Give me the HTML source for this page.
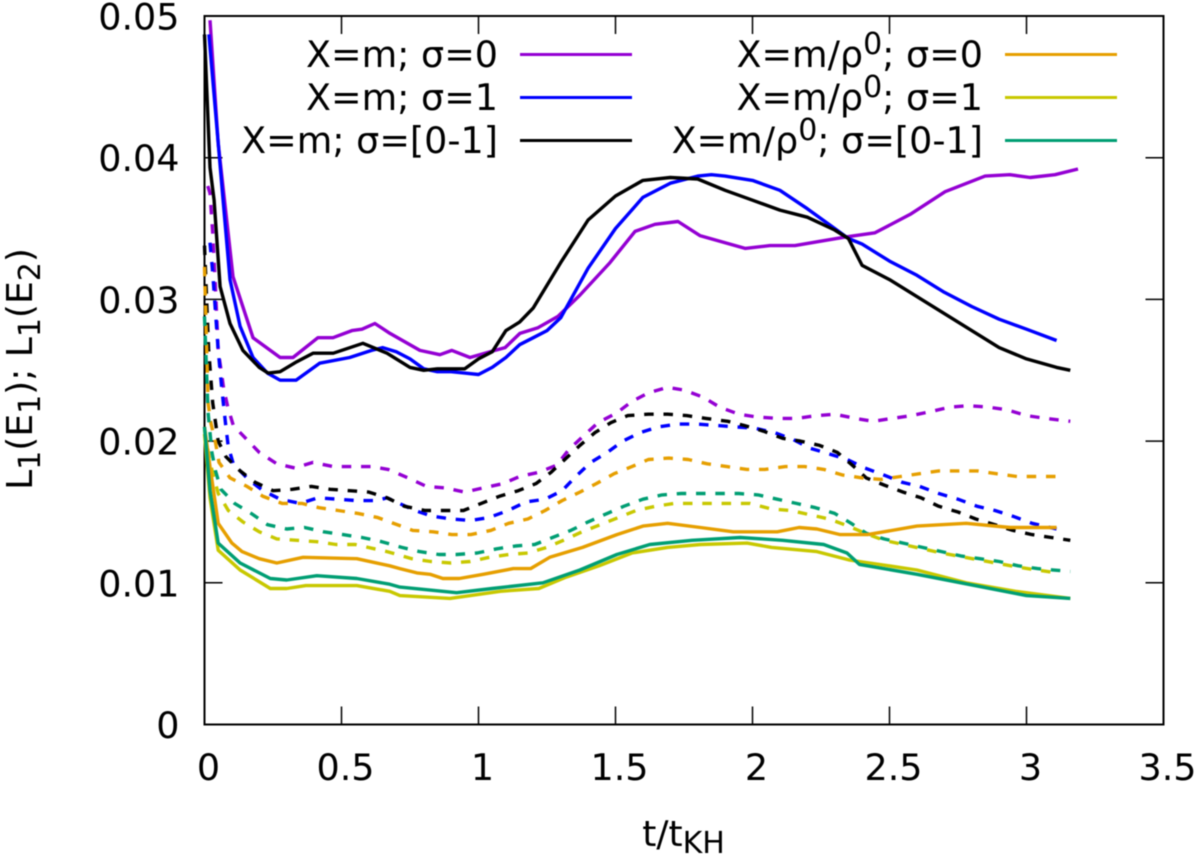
<!DOCTYPE html>
<html lang="en">
<head>
<meta charset="utf-8">
<title>L1 error vs t/tKH</title>
<style>
html,body{margin:0;padding:0;background:#fff;}
svg{display:block;filter:blur(0.45px);}
text{font-family:"DejaVu Sans","Liberation Sans",sans-serif;fill:#000;}
</style>
</head>
<body>
<svg id="chart" xmlns="http://www.w3.org/2000/svg" width="1200" height="855" viewBox="0 0 1200 855">
  <rect x="0" y="0" width="1200" height="855" fill="#fff"/>
  <g id="axes"></g>
  <g id="series"></g>
  <text transform="translate(32,369) rotate(-90)" text-anchor="middle" font-size="36">L<tspan font-size="30" dy="8">1</tspan><tspan dy="-8">(E</tspan><tspan font-size="30" dy="8">1</tspan><tspan dy="-8">); L</tspan><tspan font-size="30" dy="8">1</tspan><tspan dy="-8">(E</tspan><tspan font-size="30" dy="8">2</tspan><tspan dy="-8">)</tspan></text>
  <text x="683.5" y="846" text-anchor="middle" font-size="36">t/t<tspan font-size="30" dy="7">KH</tspan></text>
  <g id="legend">
    <g>
      <text x="498" y="67" text-anchor="end" font-size="36.5">X=m; σ=0</text>
      <line x1="520" x2="632" y1="54.5" y2="54.5" stroke="#9400d3" stroke-width="3"/>
    </g>
    <g>
      <text x="498" y="110" text-anchor="end" font-size="36.5">X=m; σ=1</text>
      <line x1="520" x2="632" y1="97.5" y2="97.5" stroke="#0000ff" stroke-width="3"/>
    </g>
    <g>
      <text x="498" y="153" text-anchor="end" font-size="36.5">X=m; σ=[0-1]</text>
      <line x1="520" x2="632" y1="140.5" y2="140.5" stroke="#000" stroke-width="3"/>
    </g>
    <g>
      <text x="983" y="67" text-anchor="end" font-size="36.5">X=m/ρ<tspan font-size="30" dy="-13">0</tspan><tspan dy="13">; σ=0</tspan></text>
      <line x1="1005" x2="1117" y1="54.5" y2="54.5" stroke="#e69f00" stroke-width="3"/>
    </g>
    <g>
      <text x="983" y="110" text-anchor="end" font-size="36.5">X=m/ρ<tspan font-size="30" dy="-13">0</tspan><tspan dy="13">; σ=1</tspan></text>
      <line x1="1005" x2="1117" y1="97.5" y2="97.5" stroke="#c8c800" stroke-width="3"/>
    </g>
    <g>
      <text x="983" y="153" text-anchor="end" font-size="36.5">X=m/ρ<tspan font-size="30" dy="-13">0</tspan><tspan dy="13">; σ=[0-1]</tspan></text>
      <line x1="1005" x2="1117" y1="140.5" y2="140.5" stroke="#009e73" stroke-width="3"/>
    </g>
  </g>
</svg>
<script>
const xTicks = ["0","0.5","1","1.5","2","2.5","3","3.5"];
const yTicks = ["0","0.01","0.02","0.03","0.04","0.05"];

const purpleSolid = [[.02,.0497],[.05,.041],[.104,.0316],[.177,.0273],[.276,.0259],[.323,.0259],[.414,.0273],[.469,.0273],[.538,.0278],[.575,.0279],[.622,.0283],[.677,.0276],[.786,.0264],[.859,.0261],[.903,.0264],[.969,.0259],[1.042,.0263],[1.097,.0266],[1.151,.0276],[1.217,.028],[1.29,.0288],[1.37,.0303],[1.48,.0326],[1.571,.0348],[1.644,.0353],[1.728,.0355],[1.808,.0345],[1.973,.0336],[2.064,.0338],[2.155,.0338],[2.246,.0341],[2.338,.0344],[2.447,.0347],[2.575,.036],[2.703,.0376],[2.849,.0387],[2.939,.0388],[3.013,.0386],[3.104,.0388],[3.188,.0392]];
const blueSolid = [[.016,.0487],[.068,.037],[.093,.0314],[.13,.0281],[.177,.0259],[.23,.0248],[.276,.0243],[.334,.0243],[.42,.0255],[.53,.0259],[.61,.0264],[.65,.0266],[.7,.0263],[.75,.0258],[.8,.0251],[.85,.0249],[.9,.0249],[.95,.0248],[1,.0247],[1.05,.0252],[1.1,.0259],[1.15,.0268],[1.2,.0273],[1.25,.0278],[1.3,.0287],[1.4,.0322],[1.5,.035],[1.6,.0372],[1.7,.0382],[1.8,.0387],[1.85,.0388],[1.9,.0387],[2,.0384],[2.1,.0377],[2.2,.0364],[2.3,.035],[2.35,.0343],[2.4,.0339],[2.5,.0327],[2.6,.0317],[2.7,.0305],[2.8,.0295],[2.9,.0286],[3,.0279],[3.11,.0271]];
const blackSolid = [[0,.0487],[.02,.0393],[.035,.037],[.057,.0309],[.093,.0283],[.14,.0264],[.2,.0252],[.232,.0248],[.276,.0249],[.337,.0256],[.396,.0262],[.47,.0262],[.578,.0269],[.666,.0262],[.75,.0252],[.8,.025],[.85,.0251],[.95,.0251],[1,.0258],[1.05,.0263],[1.1,.0278],[1.15,.0284],[1.2,.0294],[1.25,.031],[1.3,.0326],[1.4,.0356],[1.5,.0373],[1.6,.0384],[1.7,.0386],[1.8,.0385],[1.9,.0377],[2,.037],[2.1,.0363],[2.2,.0358],[2.3,.0349],[2.35,.0343],[2.4,.0324],[2.5,.0314],[2.6,.0302],[2.7,.029],[2.8,.0278],[2.9,.0266],[3,.0258],[3.11,.0252],[3.16,.025]];
const orangeSolid = [[0,.021],[.02,.0182],[.05,.0142],[.1,.0128],[.137,.0122],[.2,.0117],[.264,.0114],[.36,.0118],[.556,.0117],[.676,.0112],[.713,.011],[.775,.0107],[.823,.0106],[.87,.0103],[.93,.0103],[1.017,.0106],[1.127,.011],[1.19,.011],[1.26,.0118],[1.38,.0125],[1.505,.0134],[1.6,.014],[1.69,.0142],[1.81,.0139],[1.93,.0136],[2.09,.0136],[2.17,.0139],[2.235,.0138],[2.32,.0134],[2.42,.0134],[2.6,.014],[2.78,.0142],[2.94,.0139],[3.11,.0139]];
const yellowSolid = [[0,.0205],[.02,.016],[.05,.0123],[.13,.0109],[.24,.0096],[.3,.0096],[.37,.0098],[.556,.0098],[.676,.0094],[.713,.0091],[.896,.0089],[1.08,.0094],[1.22,.0096],[1.32,.0104],[1.44,.0112],[1.56,.0121],[1.69,.0125],[1.81,.0127],[1.98,.0128],[2.07,.0125],[2.235,.0122],[2.355,.0116],[2.39,.0115],[2.6,.0109],[2.78,.01],[2.96,.0094],[3.16,.0089]];
const tealSolid = [[0,.021],[.02,.0165],[.05,.0128],[.13,.0114],[.24,.0103],[.3,.0102],[.41,.0105],[.556,.0103],[.676,.0099],[.713,.0097],[.92,.0093],[1.05,.0096],[1.235,.01],[1.37,.0109],[1.505,.012],[1.625,.0127],[1.78,.013],[1.955,.0132],[2.11,.013],[2.26,.0127],[2.345,.0121],[2.39,.0113],[2.6,.0106],[2.84,.0097],[3,.0091],[3.16,.0089]];

const purpleDashed = [[.012,.038],[.02,.0375],[.03,.0347],[.04,.0307],[.05,.0264],[.07,.0237],[.085,.0224],[.105,.0211],[.155,.0201],[.2,.0192],[.264,.0184],[.33,.0181],[.396,.0185],[.47,.0182],[.538,.0182],[.61,.0182],[.67,.018],[.743,.0174],[.81,.0168],[.878,.0167],[.95,.0164],[1.017,.0167],[1.09,.017],[1.15,.0175],[1.22,.0178],[1.285,.0183],[1.33,.0194],[1.38,.0203],[1.436,.0213],[1.505,.022],[1.56,.0228],[1.62,.0234],[1.69,.0238],[1.75,.0236],[1.82,.0231],[1.88,.0224],[1.95,.0219],[2.016,.0217],[2.09,.0216],[2.16,.0216],[2.235,.0218],[2.3,.0219],[2.375,.0216],[2.44,.0214],[2.51,.0216],[2.58,.0218],[2.655,.0221],[2.72,.0224],[2.79,.0225],[2.86,.0224],[2.93,.0222],[3,.0218],[3.07,.0216],[3.16,.0214]];
const blueDashed = [[.02,.034],[.03,.0319],[.04,.0291],[.05,.0264],[.063,.0237],[.078,.021],[.087,.0196],[.105,.0184],[.16,.0173],[.214,.0165],[.276,.0159],[.35,.0156],[.414,.016],[.484,.0159],[.556,.0158],[.63,.0158],[.666,.016],[.768,.0151],[.83,.0147],[.903,.0145],[.972,.0144],[1.038,.0146],[1.108,.0151],[1.173,.0157],[1.243,.0159],[1.305,.0165],[1.355,.0175],[1.41,.0185],[1.47,.0192],[1.527,.02],[1.59,.0206],[1.655,.021],[1.725,.0212],[1.8,.0212],[1.87,.0211],[1.94,.021],[2.01,.0209],[2.08,.0206],[2.15,.0201],[2.21,.0195],[2.28,.0191],[2.345,.0187],[2.41,.0181],[2.48,.0176],[2.545,.0171],[2.61,.0168],[2.68,.0163],[2.75,.0159],[2.82,.0154],[2.885,.0151],[2.95,.0147],[3.02,.0142],[3.11,.0138]];
const blackDashed = [[0,.0338],[.015,.0265],[.03,.0227],[.05,.02],[.078,.0189],[.13,.0179],[.184,.0171],[.25,.0165],[.32,.0166],[.39,.0168],[.458,.0166],[.53,.0165],[.6,.0164],[.666,.016],[.73,.0154],[.805,.0151],[.87,.0151],[.945,.0151],[1.01,.0156],[1.075,.0161],[1.145,.0165],[1.21,.017],[1.265,.0178],[1.315,.0187],[1.37,.0197],[1.425,.0206],[1.483,.0213],[1.545,.0218],[1.62,.0219],[1.69,.0219],[1.76,.0218],[1.83,.0216],[1.91,.0214],[1.97,.0211],[2.04,.0207],[2.11,.0202],[2.175,.02],[2.245,.0197],[2.31,.0192],[2.37,.0182],[2.415,.0174],[2.48,.0169],[2.55,.0164],[2.615,.016],[2.68,.0154],[2.75,.015],[2.815,.0145],[2.885,.0141],[2.95,.0137],[3.02,.0134],[3.09,.0132],[3.16,.013]];
const orangeDashed = [[0,.0323],[.013,.0227],[.023,.0213],[.04,.0199],[.053,.0185],[.093,.0174],[.155,.0168],[.214,.0161],[.283,.0156],[.355,.0156],[.418,.0153],[.488,.0151],[.56,.0149],[.633,.0146],[.76,.0137],[.834,.0136],[.903,.0134],[.972,.0134],[1.045,.0137],[1.11,.0142],[1.18,.0145],[1.243,.0151],[1.305,.0158],[1.37,.0164],[1.43,.017],[1.495,.0177],[1.56,.0182],[1.62,.0187],[1.695,.0188],[1.765,.0187],[1.835,.0184],[1.907,.0182],[1.98,.018],[2.045,.018],[2.12,.0182],[2.19,.0182],[2.26,.018],[2.33,.0176],[2.4,.0174],[2.47,.0173],[2.54,.0175],[2.61,.0177],[2.68,.0179],[2.75,.0179],[2.82,.0179],[2.89,.0177],[2.965,.0175],[3.035,.0175],[3.11,.0175]];
const yellowDashed = [[0,.0208],[.02,.0185],[.05,.0163],[.087,.0151],[.14,.0143],[.2,.0136],[.264,.0131],[.337,.013],[.41,.0129],[.48,.0127],[.55,.0127],[.62,.0124],[.666,.0122],[.757,.0117],[.826,.0115],[.9,.0114],[.97,.0115],[1.04,.0118],[1.11,.012],[1.18,.0121],[1.25,.0125],[1.31,.013],[1.378,.0136],[1.445,.0141],[1.51,.0146],[1.575,.0151],[1.645,.0154],[1.715,.0156],[1.785,.0156],[1.855,.0156],[1.925,.0156],[1.99,.0156],[2.07,.0152],[2.14,.0151],[2.21,.0148],[2.28,.0145],[2.35,.014],[2.41,.0135],[2.48,.013],[2.55,.0127],[2.69,.0121],[2.83,.0116],[2.97,.0111],[3.11,.0107]];
const tealDashed = [[0,.0288],[.013,.022],[.02,.0206],[.027,.0192],[.04,.0179],[.06,.0166],[.11,.0156],[.17,.0149],[.23,.0141],[.3,.0138],[.365,.0139],[.435,.0136],[.505,.0134],[.575,.0132],[.647,.0129],[.72,.0125],[.785,.0122],[.855,.012],[.92,.012],[.995,.0121],[1.067,.0124],[1.135,.0126],[1.205,.0127],[1.27,.0132],[1.337,.0137],[1.4,.0143],[1.47,.0149],[1.53,.0154],[1.6,.0159],[1.67,.0162],[1.74,.0163],[1.81,.0163],[1.88,.0163],[1.95,.0163],[2.02,.0162],[2.09,.0159],[2.16,.0156],[2.23,.0153],[2.3,.0149],[2.36,.0142],[2.415,.0135],[2.48,.0131],[2.55,.0128],[2.62,.0125],[2.69,.0122],[2.76,.0119],[2.83,.0117],[2.9,.0115],[2.97,.0112],[3.04,.011],[3.16,.0108]];

const X0 = 204.5, X1 = 1163.5, Y0 = 724.5, Y1 = 16;
const xMax = 3.5, yMax = 0.05;
function xScale(t){ return X0 + (X1 - X0) * t / xMax; }
function yScale(v){ return Y0 - (Y0 - Y1) * v / yMax; }

const NS = "http://www.w3.org/2000/svg";
const axes = document.getElementById("axes");

xTicks.forEach(function(label){
  const px = xScale(parseFloat(label));
  [[Y0, Y0 - 18],[Y1, Y1 + 18]].forEach(function(pair){
    const tk = document.createElementNS(NS, "line");
    
    
    tk.setAttribute("x1", px); tk.setAttribute("x2", px);
    tk.setAttribute("y1", pair[0]); tk.setAttribute("y2", pair[1]);
    tk.setAttribute("stroke", "#000"); tk.setAttribute("stroke-width", "1.5");
    axes.appendChild(tk);
  });
  const tx = document.createElementNS(NS, "text");
  
  
  tx.setAttribute("x", px + 4); tx.setAttribute("y", 780);
  tx.setAttribute("text-anchor", "middle"); tx.setAttribute("font-size", "36.5");
  tx.textContent = label;
  axes.appendChild(tx);
});

yTicks.forEach(function(label){
  const py = yScale(parseFloat(label));
  [[X0, X0 + 18],[X1, X1 - 18]].forEach(function(pair){
    const tk = document.createElementNS(NS, "line");
    
    
    tk.setAttribute("x1", pair[0]); tk.setAttribute("x2", pair[1]);
    tk.setAttribute("y1", py); tk.setAttribute("y2", py);
    tk.setAttribute("stroke", "#000"); tk.setAttribute("stroke-width", "1.5");
    axes.appendChild(tk);
  });
  const tx = document.createElementNS(NS, "text");
  
  
  tx.setAttribute("x", 179.5); tx.setAttribute("y", py + 13.5);
  tx.setAttribute("text-anchor", "end"); tx.setAttribute("font-size", "36.5");
  tx.textContent = label;
  axes.appendChild(tx);
});

const frame = document.createElementNS(NS, "rect");


frame.setAttribute("x", X0); frame.setAttribute("y", Y1);
frame.setAttribute("width", X1 - X0); frame.setAttribute("height", Y0 - Y1);
frame.setAttribute("fill", "none"); frame.setAttribute("stroke", "#000"); frame.setAttribute("stroke-width", "2");
axes.appendChild(frame);

const seriesGroup = document.getElementById("series");
function drawSeries(points, color, dashed, name){
  const p = document.createElementNS(NS, "polyline");
  
  
  p.setAttribute("points", points.map(function(d){ return xScale(d[0]).toFixed(1) + "," + yScale(d[1]).toFixed(1); }).join(" "));
  p.setAttribute("fill", "none");
  p.setAttribute("stroke", color);
  p.setAttribute("stroke-width", "3.4");
  p.setAttribute("stroke-linejoin", "round");
  if (dashed) p.setAttribute("stroke-dasharray", "9.5 9.8");
  seriesGroup.appendChild(p);
}
drawSeries(purpleDashed, "#9400d3", true, "series-m-sigma-0-e2");
drawSeries(blueDashed, "#0000ff", true, "series-m-sigma-1-e2");
drawSeries(blackDashed, "#000000", true, "series-m-sigma-range-e2");
drawSeries(orangeDashed, "#e69f00", true, "series-rho-sigma-0-e2");
drawSeries(yellowDashed, "#c8c800", true, "series-rho-sigma-1-e2");
drawSeries(tealDashed, "#009e73", true, "series-rho-sigma-range-e2");
drawSeries(purpleSolid, "#9400d3", false, "series-m-sigma-0-e1");
drawSeries(blueSolid, "#0000ff", false, "series-m-sigma-1-e1");
drawSeries(blackSolid, "#000000", false, "series-m-sigma-range-e1");
drawSeries(orangeSolid, "#e69f00", false, "series-rho-sigma-0-e1");
drawSeries(yellowSolid, "#c8c800", false, "series-rho-sigma-1-e1");
drawSeries(tealSolid, "#009e73", false, "series-rho-sigma-range-e1");
</script>
</body>
</html>
